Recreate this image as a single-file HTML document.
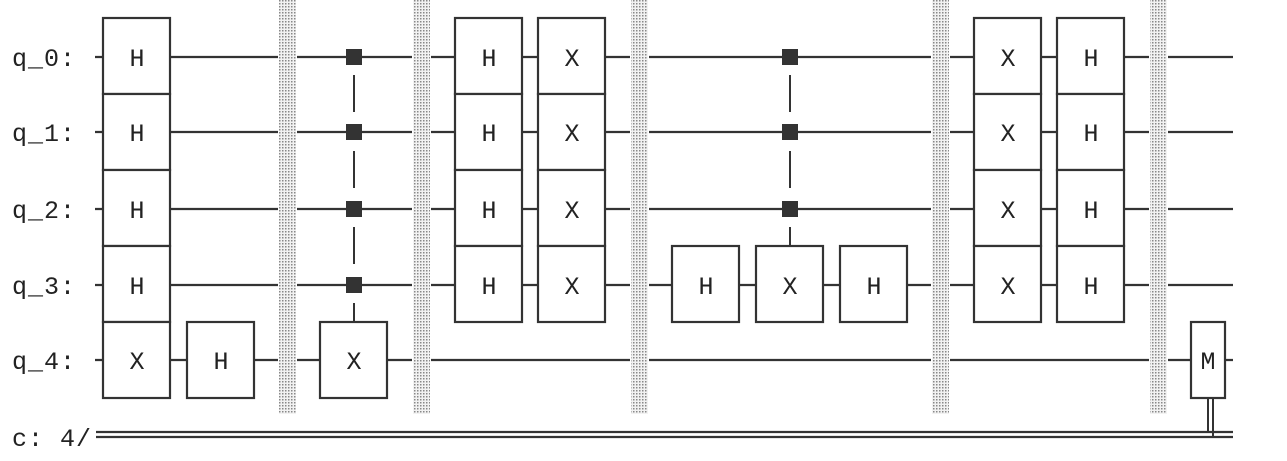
<!DOCTYPE html>
<html><head><meta charset="utf-8"><style>
html,body{margin:0;padding:0;background:#fff;width:1287px;height:461px;overflow:hidden}
text{font-family:"Liberation Mono","DejaVu Sans Mono",monospace;font-size:25px;fill:#222}
</style></head><body>
<svg width="1287" height="461" xmlns="http://www.w3.org/2000/svg">
<defs>
<pattern id="dots" width="3" height="3" patternUnits="userSpaceOnUse">
<rect width="3" height="3" fill="#f2f2f2"/><rect width="1.5" height="1.5" fill="#888"/>
</pattern>
</defs>
<g stroke="#333" stroke-width="2.2">
<line x1="95" y1="57" x2="1233" y2="57"/>
<line x1="95" y1="132" x2="1233" y2="132"/>
<line x1="95" y1="209" x2="1233" y2="209"/>
<line x1="95" y1="285" x2="1233" y2="285"/>
<line x1="95" y1="360" x2="1233" y2="360"/>
<line x1="96" y1="432" x2="1233" y2="432"/>
<line x1="96" y1="437" x2="1233" y2="437"/>
</g>
<g fill="url(#dots)">
<rect x="279" y="0" width="17" height="414"/>
<rect x="413" y="0" width="17" height="414"/>
<rect x="631" y="0" width="17" height="414"/>
<rect x="932" y="0" width="17" height="414"/>
<rect x="1150" y="0" width="17" height="414"/>
</g>
<g stroke="#fff" stroke-width="1">
<line x1="278.5" y1="0" x2="278.5" y2="414"/><line x1="296.5" y1="0" x2="296.5" y2="414"/>
<line x1="412.5" y1="0" x2="412.5" y2="414"/><line x1="430.5" y1="0" x2="430.5" y2="414"/>
<line x1="630.5" y1="0" x2="630.5" y2="414"/><line x1="648.5" y1="0" x2="648.5" y2="414"/>
<line x1="931.5" y1="0" x2="931.5" y2="414"/><line x1="949.5" y1="0" x2="949.5" y2="414"/>
<line x1="1149.5" y1="0" x2="1149.5" y2="414"/><line x1="1167.5" y1="0" x2="1167.5" y2="414"/>
</g>
<g stroke="#333" stroke-width="2">
<line x1="354" y1="75" x2="354" y2="112"/><line x1="354" y1="151" x2="354" y2="188"/>
<line x1="354" y1="227" x2="354" y2="264"/><line x1="354" y1="303" x2="354" y2="322"/>
<line x1="790" y1="75" x2="790" y2="112"/><line x1="790" y1="151" x2="790" y2="188"/>
<line x1="790" y1="227" x2="790" y2="246"/>
<line x1="1208" y1="398" x2="1208" y2="432"/><line x1="1213" y1="398" x2="1213" y2="437"/>
</g>
<g fill="#333">
<rect x="346" y="49" width="16" height="16"/><rect x="346" y="124" width="16" height="16"/>
<rect x="346" y="201" width="16" height="16"/><rect x="346" y="277" width="16" height="16"/>
<rect x="782" y="49" width="16" height="16"/><rect x="782" y="124" width="16" height="16"/>
<rect x="782" y="201" width="16" height="16"/>
</g>
<g fill="#fff" stroke="#333" stroke-width="2.2">
<rect x="103" y="18" width="67" height="76"/><rect x="103" y="94" width="67" height="76"/>
<rect x="103" y="170" width="67" height="76"/><rect x="103" y="246" width="67" height="76"/>
<rect x="103" y="322" width="67" height="76"/>
<rect x="187" y="322" width="67" height="76"/>
<rect x="320" y="322" width="67" height="76"/>
<rect x="455" y="18" width="67" height="76"/><rect x="455" y="94" width="67" height="76"/>
<rect x="455" y="170" width="67" height="76"/><rect x="455" y="246" width="67" height="76"/>
<rect x="538" y="18" width="67" height="76"/><rect x="538" y="94" width="67" height="76"/>
<rect x="538" y="170" width="67" height="76"/><rect x="538" y="246" width="67" height="76"/>
<rect x="672" y="246" width="67" height="76"/>
<rect x="756" y="246" width="67" height="76"/>
<rect x="840" y="246" width="67" height="76"/>
<rect x="974" y="18" width="67" height="76"/><rect x="974" y="94" width="67" height="76"/>
<rect x="974" y="170" width="67" height="76"/><rect x="974" y="246" width="67" height="76"/>
<rect x="1057" y="18" width="67" height="76"/><rect x="1057" y="94" width="67" height="76"/>
<rect x="1057" y="170" width="67" height="76"/><rect x="1057" y="246" width="67" height="76"/>
<rect x="1191" y="322" width="34" height="76"/>
</g>
<g text-anchor="middle">
<text x="137" y="66">H</text><text x="137" y="141">H</text><text x="137" y="218">H</text><text x="137" y="294">H</text><text x="137" y="369">X</text>
<text x="221" y="369">H</text><text x="354" y="369">X</text>
<text x="489" y="66">H</text><text x="489" y="141">H</text><text x="489" y="218">H</text><text x="489" y="294">H</text>
<text x="572" y="66">X</text><text x="572" y="141">X</text><text x="572" y="218">X</text><text x="572" y="294">X</text>
<text x="706" y="294">H</text><text x="790" y="294">X</text><text x="874" y="294">H</text>
<text x="1008" y="66">X</text><text x="1008" y="141">X</text><text x="1008" y="218">X</text><text x="1008" y="294">X</text>
<text x="1091" y="66">H</text><text x="1091" y="141">H</text><text x="1091" y="218">H</text><text x="1091" y="294">H</text>
<text x="1208" y="369">M</text>
</g>
<g letter-spacing="1">
<text x="12" y="66">q_0:</text><text x="12" y="141">q_1:</text><text x="12" y="218">q_2:</text>
<text x="12" y="294">q_3:</text><text x="12" y="369">q_4:</text><text x="12" y="446">c: 4/</text>
</g>
</svg>
</body></html>
